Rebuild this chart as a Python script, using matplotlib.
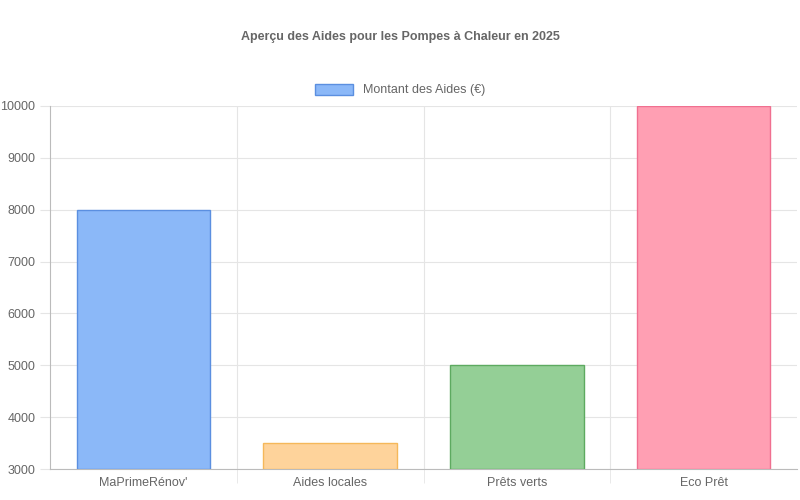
import matplotlib
matplotlib.use("Agg")
import matplotlib.pyplot as plt
from matplotlib.patches import Patch

categories = ["MaPrimeRénov'", "Aides locales", "Prêts verts", "Eco Prêt"]
values = [8000, 3500, 5000, 10000]
fills = ["#8bb8f8", "#fed39b", "#94cf96", "#ff9fb3"]
edges = ["#5b8fe0", "#f5b85a", "#5daa60", "#f07090"]

plt.rcParams['font.family'] = ['Liberation Sans', 'DejaVu Sans']
fig = plt.figure(figsize=(8, 5), dpi=100)
ax = fig.add_axes([50/800, 1-469/500, 747/800, 363/500])
x = list(range(len(categories)))
base = 3000
ax.bar(x, [v - base for v in values], bottom=base, width=0.715, color=fills, edgecolor=edges, linewidth=1, zorder=3)
ax.set_xlim(-0.5, 3.5)
ax.set_ylim(3000, 10000)
ax.set_yticks(range(3000, 10001, 1000))
ax.set_xticks(x)
ax.set_xticklabels(categories)
ax.set_xticks([0.5, 1.5, 2.5], minor=True)
ax.grid(axis='y', color='#e5e5e5', lw=0.8, zorder=0)
ax.grid(axis='x', which='minor', color='#e5e5e5', lw=0.8, zorder=0)
ax.tick_params(axis='x', which='major', length=0, colors='#666', labelsize=9, pad=6)
ax.tick_params(axis='x', which='minor', length=10, color='#e5e5e5')
ax.tick_params(axis='y', length=7, color='#e5e5e5', colors='#666', labelsize=9)
for s in ['top', 'right']:
    ax.spines[s].set_visible(False)
for s in ['left', 'bottom']:
    ax.spines[s].set_color('#bbbbbb')
fig.text(0.5, 1-37/500, "Aperçu des Aides pour les Pompes à Chaleur en 2025", ha='center', va='center',
         fontsize=9, fontweight='bold', color='#666')
fig.legend(handles=[Patch(facecolor=fills[0], edgecolor=edges[0], label="Montant des Aides (€)")],
           loc='center', bbox_to_anchor=(0.5, 1-90/500), frameon=False, fontsize=9,
           labelcolor='#666', handlelength=3, handleheight=1)
fig.savefig("out.png", dpi=100)
